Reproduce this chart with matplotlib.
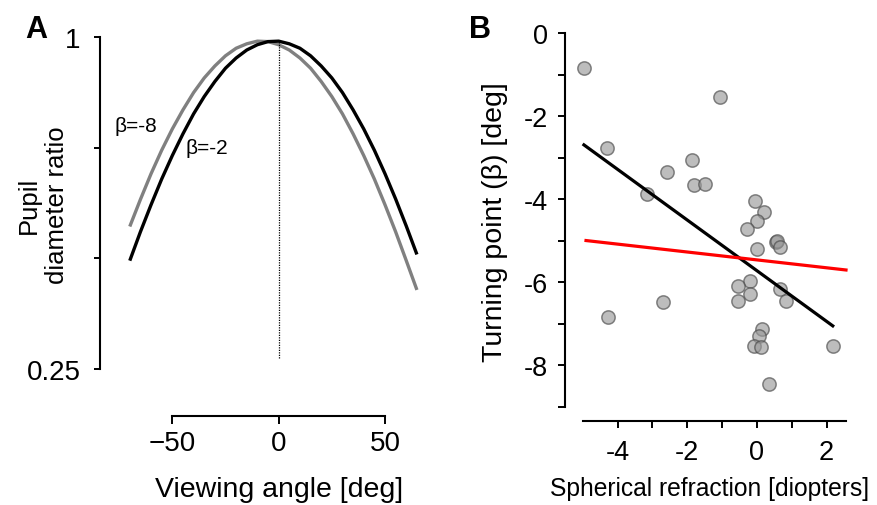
import numpy as np
import matplotlib
matplotlib.use("Agg")
import matplotlib.pyplot as plt

plt.rcParams['font.family'] = ['Liberation Sans', 'DejaVu Sans']

# panel A: pupil diameter ratio vs viewing angle, two turning points
angle = [-70, -65, -60, -55, -50, -45, -40, -35, -30, -25, -20, -15, -10, -5,
         0, 5, 10, 15, 20, 25, 30, 35, 40, 45, 50, 55, 60, 65]
ratio_beta2 = [0.495, 0.560, 0.621, 0.679, 0.732, 0.781, 0.826, 0.865, 0.899, 0.929,
               0.952, 0.970, 0.982, 0.989, 0.990, 0.984, 0.974, 0.957, 0.934, 0.907,
               0.874, 0.835, 0.792, 0.744, 0.691, 0.634, 0.573, 0.509]
ratio_beta8 = [0.572, 0.633, 0.691, 0.744, 0.792, 0.835, 0.874, 0.907, 0.934, 0.957,
               0.974, 0.984, 0.990, 0.989, 0.982, 0.970, 0.952, 0.929, 0.899, 0.865,
               0.826, 0.781, 0.732, 0.679, 0.621, 0.560, 0.495, 0.429]
a_xticks = [-50, 0, 50]
a_xticklabels = ['\u221250', '0', '50']
a_yticks = [0.25, 0.5, 0.75, 1.0]
a_yticklabels = ['0.25', '', '', '1']
vline_range = (0.275, 0.99)

# panel B: turning point vs spherical refraction
refraction = [-4.97, -1.07, -4.32, -1.86, -2.58, -1.81, -1.48, -3.15, -0.06, 0.20,
              -0.01, -0.28, 0.55, 0.59, 0.67, -0.01, -0.21, -0.55, 0.66, -0.19,
              -0.55, 0.83, -2.71, -4.27, 0.15, 0.06, -0.07, 0.12, 2.18, 0.34]
turning = [-0.83, -1.53, -2.76, -3.05, -3.33, -3.65, -3.63, -3.88, -4.05, -4.31,
           -4.53, -4.71, -5.02, -5.00, -5.14, -5.19, -5.97, -6.10, -6.15, -6.29,
           -6.44, -6.44, -6.47, -6.84, -7.12, -7.29, -7.53, -7.56, -7.54, -8.46]
black_fit = (-0.61, -5.72)   # slope, intercept
red_fit = (-0.095, -5.46)
red_range = (-4.91, 2.56)
b_xticks = [-4, -3, -2, -1, 0, 1, 2]
b_xticklabels = ['-4', '', '-2', '', '0', '', '2']
b_yticks = [0, -1, -2, -3, -4, -5, -6, -7, -8, -9]
b_yticklabels = ['0', '', '-2', '', '-4', '', '-6', '', '-8', '']

W, H = 877, 506
fig = plt.figure(figsize=(W / 100, H / 100), dpi=100)

def px_axes(left, top, right, bottom):
    return fig.add_axes([left / W, 1 - bottom / H, (right - left) / W, (bottom - top) / H])

# ---- panel A ----
ax = px_axes(100, 30, 425, 416.7)
ax.plot(angle, ratio_beta8, color='#808080', lw=2.4, solid_capstyle='butt')
ax.plot(angle, ratio_beta2, color='black', lw=2.4, solid_capstyle='butt')
ax.vlines(0, vline_range[0], vline_range[1], colors='black', linestyles=(0, (1, 1)), lw=0.9)
ax.set_xlim(-84, 68.8)
ax.set_ylim(0.1454, 1.0174)
for s in ['top', 'right']:
    ax.spines[s].set_visible(False)
ax.spines['left'].set_bounds(0.25, 1)
ax.spines['bottom'].set_bounds(-50, 50)
for s in ['left', 'bottom']:
    ax.spines[s].set_linewidth(1.5)
ax.set_xticks(a_xticks)
ax.set_xticklabels(a_xticklabels, fontsize=20)
ax.set_yticks(a_yticks)
ax.set_yticklabels(a_yticklabels, fontsize=20)
ax.tick_params(axis='y', length=4, width=1.4, pad=10)
ax.tick_params(axis='x', length=6, width=1.4, pad=4)
ax.text(-77, 0.799, '\u03b2=-8', fontsize=15, va='center', ha='left')
ax.text(-44, 0.751, '\u03b2=-2', fontsize=15, va='center', ha='left')

fig.text(43 / W, 1 - 205 / H, 'Pupil\ndiameter ratio', rotation=90, fontsize=18.5,
         ha='center', va='center', multialignment='center')
fig.text(278.7 / W, 1 - 490 / H, 'Viewing angle [deg]', fontsize=20.5, ha='center', va='center')
fig.text(25 / W, 1 - 37.5 / H, 'A', fontsize=22, fontweight='bold', ha='left', va='baseline')

# ---- panel B ----
bx = px_axes(565, 30, 850, 421.7)
bx.scatter(refraction, turning, s=92, facecolor='#9a9a9a', edgecolor='#4a4a4a',
           linewidth=1.1, alpha=0.65, zorder=2)
xs = np.array([min(refraction), max(refraction)])
bx.plot(xs, black_fit[0] * xs + black_fit[1], color='black', lw=2.3, zorder=3)
xr = np.array(red_range)
bx.plot(xr, red_fit[0] * xr + red_fit[1], color='#ff0000', lw=2.3, zorder=3)
bx.set_xlim(-5.514, 2.675)
bx.set_ylim(-9.335, 0.104)
for s in ['top', 'right']:
    bx.spines[s].set_visible(False)
bx.spines['left'].set_bounds(-9, 0)
bx.spines['bottom'].set_bounds(-5, 2.55)
for s in ['left', 'bottom']:
    bx.spines[s].set_linewidth(1.5)
bx.set_xticks(b_xticks)
bx.set_xticklabels(b_xticklabels, fontsize=19.5)
bx.set_yticks(b_yticks)
bx.set_yticklabels(b_yticklabels, fontsize=19.5)
bx.tick_params(axis='y', length=5, width=1.4, pad=7)
bx.tick_params(axis='x', length=5, width=1.4, pad=8)

fig.text(495 / W, 1 - 222 / H, 'Turning point (\u03b2) [deg]', rotation=90, fontsize=20.5,
         ha='center', va='center')
fig.text(710 / W, 1 - 489 / H, 'Spherical refraction [diopters]', fontsize=17.7,
         ha='center', va='center')
fig.text(469 / W, 1 - 37.5 / H, 'B', fontsize=22, fontweight='bold', ha='left', va='baseline')

fig.savefig('out.png', dpi=100)
